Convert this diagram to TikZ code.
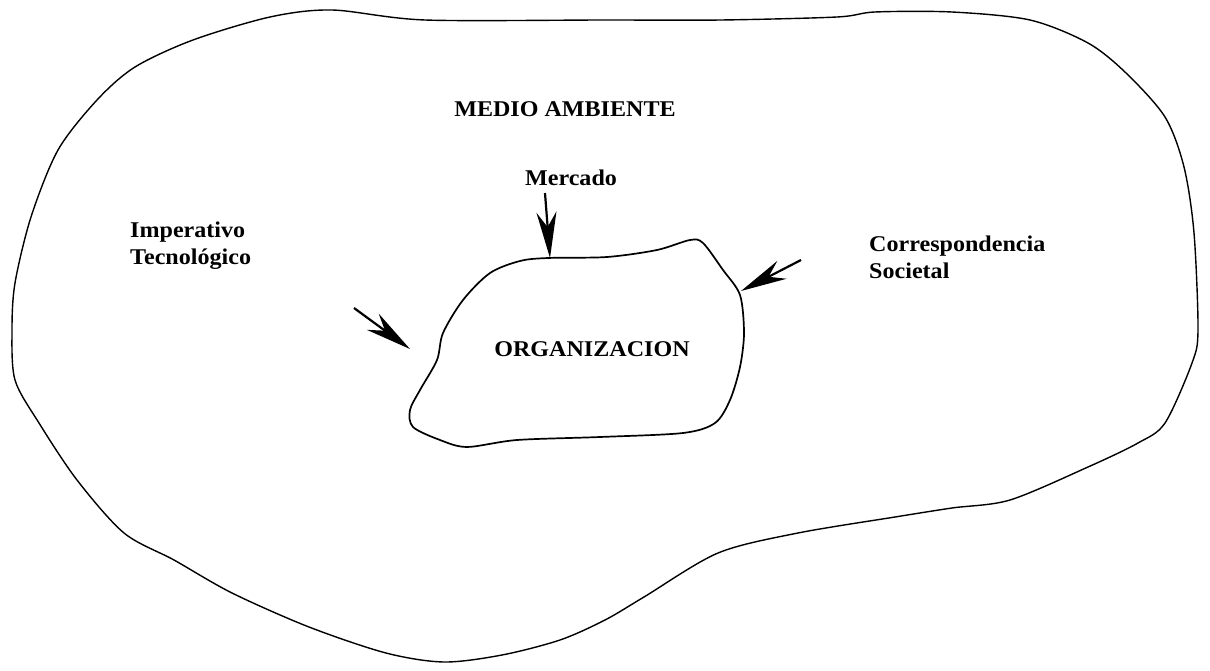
\documentclass[tikz,border=0pt]{standalone}
\usepackage{fontspec}
\setmainfont{Liberation Serif}[FakeStretch=1.07]
\usetikzlibrary{arrows.meta}
\begin{document}
\begin{tikzpicture}[x=1pt,y=-1pt,
  blob/.style={draw=black, line width=1.4pt, line join=round},
  lbl/.style={font=\fontsize{22.5}{27}\selectfont\bfseries, inner sep=0pt},
  push/.style={draw=black, line width=2.2pt,
    -{Stealth[length=46pt, width=20pt, inset=15pt]}}]
\useasboundingbox[fill=white] (0,0) rectangle (1210,671);
% environment
\draw[blob] plot[smooth cycle, tension=0.5] coordinates {
 (332,10) (425,20) (605,20) (721,20) (837,17) (875,12) (952,12) (1030,20)
 (1088,43) (1126,73) (1165,117) (1184,167) (1194,233) (1198,330) (1192,363)
 (1165,423) (1138,443) (1088,467) (1010,500) (952,508) (895,517) (798,533)
 (718,553) (644,597) (605,620) (560,640) (502,655) (444,662)
 (386,653) (309,627) (232,593) (174,560) (124,533) (77,480) (39,423)
 (15,380) (12,330) (15,283) (31,217) (58,150) (97,100) (135,67) (193,40)
 (270,17)};
% organization
\draw[blob, line width=1.7pt] plot[smooth cycle, tension=0.5] coordinates {
 (548,258) (607,257) (657,250) (690,240) (703,243) (723,270) (740,295)
 (744,333) (740,367) (730,400) (715,423) (683,433) (600,437) (517,440)
 (467,447) (440,440) (413,427) (410,410) (420,390) (437,360) (443,333)
 (463,300) (490,273) (520,261)};
% labels
\node[lbl, anchor=base] (env) at (565,117) {MEDIO AMBIENTE};
\node[lbl, anchor=base] (org) at (592,356) {ORGANIZACION};
\node[lbl, anchor=base] (mer) at (571,186) {Mercado};
\node[lbl, anchor=west, align=left] (imp) at (130,246) {Imperativo\\Tecnológico};
\node[lbl, anchor=west, align=left] (cor) at (869,257) {Correspondencia\\Societal};
% arrows
\coordinate (mt) at (545,193); \coordinate (mh) at (550,258);
\coordinate (lt) at (354,308); \coordinate (lh) at (410,349);
\coordinate (rt) at (801,260); \coordinate (rh) at (741,291);
\draw[push] (mt) -- (mh);
\draw[push] (lt) -- (lh);
\draw[push] (rt) -- (rh);
\end{tikzpicture}
\end{document}
